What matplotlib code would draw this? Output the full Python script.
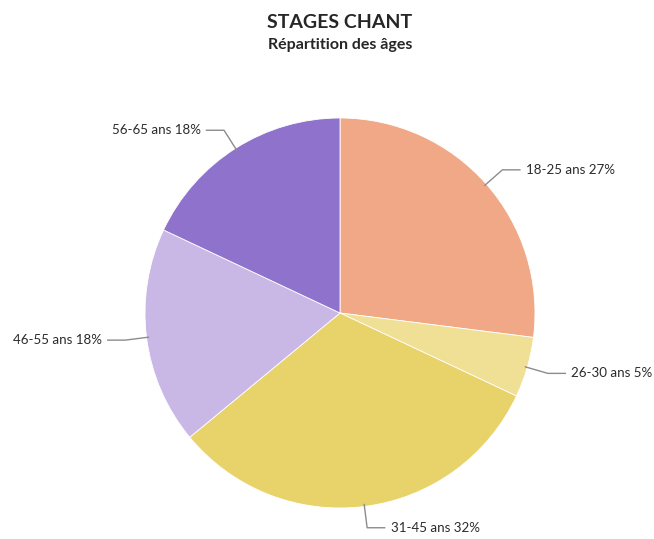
import numpy as np
import matplotlib.pyplot as plt

plt.rcParams['font.family'] = ['Lato', 'DejaVu Sans']

labels = ['18-25 ans', '26-30 ans', '31-45 ans', '46-55 ans', '56-65 ans']
values = [27, 5, 32, 18, 18]
colors = ['#F0A886', '#F0E096', '#E8D26A', '#C9B8E6', '#8E72CC']

W, H = 654, 539
fig = plt.figure(figsize=(W / 100, H / 100), dpi=100)

# pie centre (340, 313) px, radius 195 px
cx, cy, r = 340, 313, 195
ax = fig.add_axes([(cx - r) / W, (H - cy - r) / H, 2 * r / W, 2 * r / H])
wedges, _ = ax.pie(values, colors=colors, startangle=90, counterclock=False,
                   radius=1, wedgeprops=dict(edgecolor='white', linewidth=0.6))
ax.set_xlim(-1, 1)
ax.set_ylim(-1, 1)
ax.set_aspect('equal')
ax.axis('off')

for w, lab, v in zip(wedges, labels, values):
    ang = np.deg2rad((w.theta1 + w.theta2) / 2)
    x0, y0 = np.cos(ang) * 0.99, np.sin(ang) * 0.99
    x1, y1 = np.cos(ang) * 1.11, np.sin(ang) * 1.11
    s = 1 if x1 >= 0 else -1
    x2 = x1 + s * 0.09
    ax.plot([x0, x1, x2], [y0, y1, y1], color='#8c8c8c', lw=1, clip_on=False)
    ax.text(x2 + s * 0.03, y1, f'{lab} {v}%', ha='left' if s > 0 else 'right',
            va='center', fontsize=9.6, color='#2b2b2b')

fig.text(cx / W, 1 - 22 / H, 'STAGES CHANT', ha='center', va='center',
         fontsize=14, fontweight='bold', color='#262626')
fig.text(cx / W, 1 - 45 / H, 'Répartition des âges', ha='center', va='center',
         fontsize=11.5, fontweight='bold', color='#262626')

fig.savefig('out.png', dpi=100, facecolor='white')
